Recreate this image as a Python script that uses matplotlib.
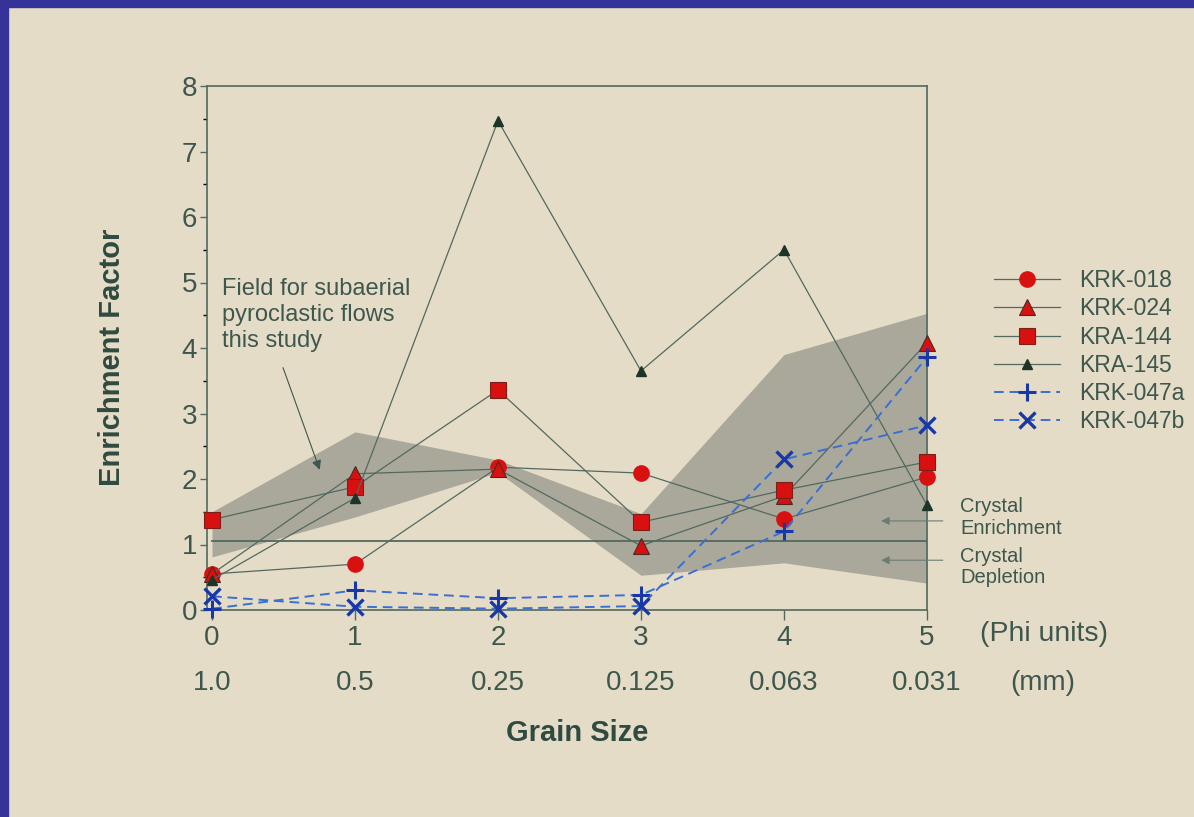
import matplotlib.pyplot as plt
from matplotlib.patches import Rectangle

plt.rcParams['font.family'] = ['Liberation Sans', 'DejaVu Sans']

# grain size classes
phi = [0, 1, 2, 3, 4, 5]
phi_labels = ['0', '1', '2', '3', '4', '5']
mm_labels = ['1.0', '0.5', '0.25', '0.125', '0.063', '0.031']

# enrichment factors
krk018 = [0.55, 0.70, 2.18, 2.09, 1.39, 2.03]
krk024 = [0.55, 2.08, 2.15, 0.98, 1.74, 4.08]
kra144 = [1.38, 1.88, 3.36, 1.34, 1.83, 2.26]
kra145 = [0.46, 1.71, 7.47, 3.65, 5.50, 1.60]
krk047a = [0.02, 0.30, 0.18, 0.23, 1.20, 3.86]
krk047b = [0.21, 0.05, 0.02, 0.06, 2.30, 2.82]

# shaded field for subaerial pyroclastic flows
field_upper = [1.50, 2.72, 2.29, 1.47, 3.90, 4.53]
field_lower = [0.81, 1.42, 2.10, 0.53, 0.72, 0.41]

boundary = 1.05

bg = '#e5dcc8'
ink = '#3e574d'
line_col = '#52695f'
red = '#d81010'
blue_dark = '#1838a8'
blue_line = '#3a6fd2'

fig = plt.figure(figsize=(11.94, 8.17), dpi=100, facecolor=bg)
ax = fig.add_axes([207 / 1194, 1 - 610 / 817, 720 / 1194, 524 / 817])
ax.set_facecolor(bg)

# slide border (left and top)
fig.patches.append(Rectangle((0, 0), 8 / 1194, 1, transform=fig.transFigure,
                             color='#35339a', zorder=10))
fig.patches.append(Rectangle((0, 1 - 7 / 817), 1, 7 / 817, transform=fig.transFigure,
                             color='#35339a', zorder=10))

ax.fill_between(phi, field_lower, field_upper, color='#aaa89b', lw=0, zorder=1)
ax.plot([0, 5], [boundary, boundary], color=line_col, lw=1.3, zorder=2)

lw = 0.9
ax.plot(phi, krk018, color=line_col, lw=lw, marker='o', ms=11, mfc=red, mec=red,
        label='KRK-018', zorder=4, clip_on=False)
ax.plot(phi, krk024, color=line_col, lw=lw, marker='^', ms=11, mfc=red, mec='#4a2a20',
        mew=0.8, label='KRK-024', zorder=4, clip_on=False)
ax.plot(phi, kra144, color=line_col, lw=lw, marker='s', ms=11, mfc=red, mec='#7a2018',
        mew=0.8, label='KRA-144', zorder=4, clip_on=False)
ax.plot(phi, kra145, color=line_col, lw=lw, marker='^', ms=6.5, mfc='#1d3528', mec='#1d3528',
        label='KRA-145', zorder=4, clip_on=False)
ax.plot(phi, krk047a, color=blue_line, lw=1.4, ls=(0, (5, 3)), marker='+', ms=13, mew=2.2,
        mec=blue_dark, label='KRK-047a', zorder=5, clip_on=False)
ax.plot(phi, krk047b, color=blue_line, lw=1.4, ls=(0, (5, 3)), marker='x', ms=11, mew=2.4,
        mec=blue_dark, label='KRK-047b', zorder=5, clip_on=False)

ax.set_xlim(-0.035, 5)
ax.set_ylim(0, 8)
ax.set_xticks(phi)
ax.set_xticklabels(phi_labels)
ax.set_yticks(range(9))
ax.set_yticks([i + 0.5 for i in range(8)], minor=True)
ax.tick_params(axis='both', colors=line_col, labelcolor=ink, labelsize=20, width=1)
ax.tick_params(axis='y', length=5, pad=2)
ax.tick_params(axis='y', which='minor', length=3, width=1)
ax.tick_params(axis='x', length=7, pad=4)
for s in ax.spines.values():
    s.set_color(line_col)
    s.set_linewidth(1.2)

# second row of grain size labels (mm)
for x, lab in zip(phi, mm_labels):
    ax.text(x, -0.139, lab, transform=ax.get_xaxis_transform(), ha='center', va='center',
            fontsize=20, color=ink)
fig.text(980 / 1194, 1 - 634 / 817, '(Phi units)', ha='left', va='center', fontsize=20.5, color=ink)
fig.text(1010 / 1194, 1 - 683 / 817, '(mm)', ha='left', va='center', fontsize=20, color=ink)
fig.text(577 / 1194, 1 - 733 / 817, 'Grain Size', ha='center', va='center', fontsize=21,
         fontweight='bold', color='#2f4a40')
fig.text(112 / 1194, 1 - 357 / 817, 'Enrichment Factor', ha='center', va='center', fontsize=21,
         fontweight='bold', color='#2f4a40', rotation=90)

# field annotation
ax.text(0.07, 5.07, 'Field for subaerial\npyroclastic flows\nthis study', ha='left', va='top',
        fontsize=17, color=ink, linespacing=1.25)
ax.annotate('', xy=(0.76, 2.1), xytext=(0.49, 3.74),
            arrowprops=dict(arrowstyle='-|>', color=ink, lw=0.8, mutation_scale=14))

# crystal enrichment / depletion labels
for yv, txt, ya in [(1.36, 'Crystal\nEnrichment', 1.72), (0.76, 'Crystal\nDepletion', 0.96)]:
    ax.annotate('', xy=(4.66, yv), xytext=(5.13, yv), annotation_clip=False,
                arrowprops=dict(arrowstyle='-|>', color='#6a7d72', lw=0.8, mutation_scale=12))
    ax.text(5.23, ya, txt, ha='left', va='top', fontsize=14.5, color=ink,
            linespacing=1.15, clip_on=False)

leg = fig.legend(loc='upper left', bbox_to_anchor=(994 / 1194, 1 - 269 / 817), frameon=False,
                 fontsize=16.5, handlelength=2.9, handletextpad=0.8, labelspacing=0.23,
                 borderpad=0, borderaxespad=0)
for t in leg.get_texts():
    t.set_color(ink)

fig.savefig('out.png', dpi=100, facecolor=bg)
